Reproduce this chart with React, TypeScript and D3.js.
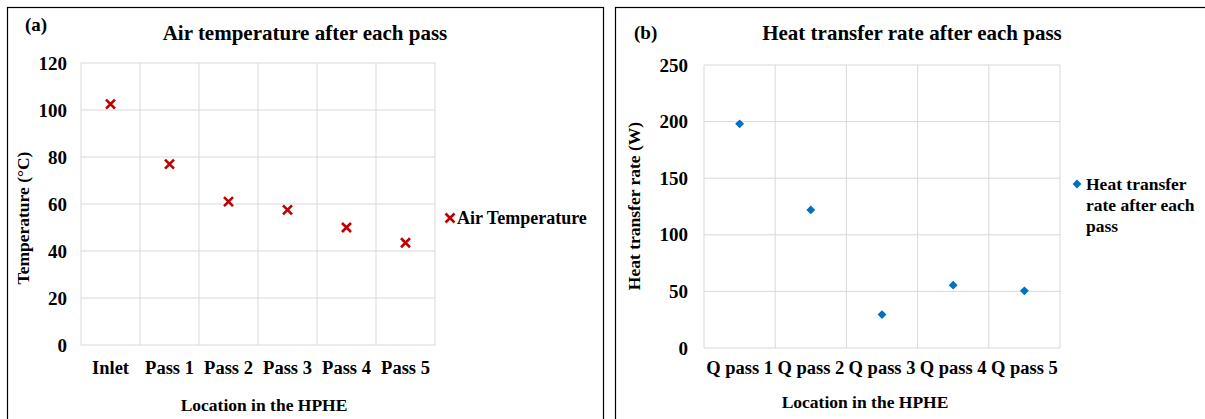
import * as d3 from "d3";

const tempCategories = ["Inlet", "Pass 1", "Pass 2", "Pass 3", "Pass 4", "Pass 5"];
const tempValues = [102.5, 77, 61, 57.5, 50, 43.5];
const tempTicks = [0, 20, 40, 60, 80, 100, 120];

const heatCategories = ["Q pass 1", "Q pass 2", "Q pass 3", "Q pass 4", "Q pass 5"];
const heatValues = [198, 122, 29.5, 55.5, 50.5];
const heatTicks = [0, 50, 100, 150, 200, 250];

const FONT = "'Liberation Serif', 'Times New Roman', serif";
const GRID = "#d9d9d9";

function TempPanel() {
  const x = d3.scaleBand<string>().domain(tempCategories).range([81, 435]);
  const y = d3.scaleLinear().domain([0, 120]).range([345, 63]);
  return (
    <g fontFamily={FONT} fontWeight="bold" fill="#000">
      <rect x={7.5} y={7.5} width={596} height={430} fill="#fff" stroke="#000" strokeWidth={1.2} />
      <text x={25} y={31} fontSize={19}>(a)</text>
      <text x={305} y={40} fontSize={21} textAnchor="middle">Air temperature after each pass</text>
      {tempTicks.map((t) => (
        <g key={t}>
          <line x1={81} x2={435} y1={y(t)} y2={y(t)} stroke={GRID} strokeWidth={1} />
          <text x={67} y={y(t) + 6.5} fontSize={19} textAnchor="end">{t}</text>
        </g>
      ))}
      {tempCategories.map((c, i) => (
        <g key={c}>
          <line x1={x(c)!} x2={x(c)!} y1={63} y2={345} stroke={GRID} />
          {i === tempCategories.length - 1 && (
            <line x1={x(c)! + x.bandwidth()} x2={x(c)! + x.bandwidth()} y1={63} y2={345} stroke={GRID} />
          )}
          <text x={x(c)! + x.bandwidth() / 2} y={374} fontSize={18.5} textAnchor="middle">{c}</text>
        </g>
      ))}
      {tempValues.map((v, i) => {
        const cx = x(tempCategories[i])! + x.bandwidth() / 2;
        const cy = y(v);
        return (
          <path key={i} d={`M${cx - 4.5},${cy - 4.5}L${cx + 4.5},${cy + 4.5}M${cx - 4.5},${cy + 4.5}L${cx + 4.5},${cy - 4.5}`}
            stroke="#c00000" strokeWidth={2.6} fill="none" />
        );
      })}
      <text x={264} y={411} fontSize={17.5} textAnchor="middle">Location in the HPHE</text>
      <text transform="translate(29,218) rotate(-90)" fontSize={17.5} textAnchor="middle">Temperature (°C)</text>
      <path d="M445.5,213.5L454.5,222.5M445.5,222.5L454.5,213.5" stroke="#c00000" strokeWidth={2.6} fill="none" />
      <text x={457} y={224} fontSize={18}>Air Temperature</text>
    </g>
  );
}

function HeatPanel() {
  const x = d3.scaleBand<string>().domain(heatCategories).range([704, 1060]);
  const y = d3.scaleLinear().domain([0, 250]).range([348, 65]);
  const diamond = d3.symbol().type(d3.symbolDiamond2).size(50);
  return (
    <g fontFamily={FONT} fontWeight="bold" fill="#000">
      <rect x={615.5} y={7.5} width={620} height={430} fill="#fff" stroke="#000" strokeWidth={1.2} />
      <text x={634} y={39} fontSize={19}>(b)</text>
      <text x={912} y={40} fontSize={21} textAnchor="middle">Heat transfer rate after each pass</text>
      {heatTicks.map((t) => (
        <g key={t}>
          <line x1={704} x2={1060} y1={y(t)} y2={y(t)} stroke={GRID} />
          <text x={688} y={y(t) + 6.5} fontSize={19} textAnchor="end">{t}</text>
        </g>
      ))}
      {heatCategories.map((c, i) => (
        <g key={c}>
          <line x1={x(c)!} x2={x(c)!} y1={65} y2={348} stroke={GRID} />
          {i === heatCategories.length - 1 && (
            <line x1={x(c)! + x.bandwidth()} x2={x(c)! + x.bandwidth()} y1={65} y2={348} stroke={GRID} />
          )}
          <text x={x(c)! + x.bandwidth() / 2} y={374} fontSize={18.5} textAnchor="middle">{c}</text>
        </g>
      ))}
      {heatValues.map((v, i) => (
        <path key={i} d={diamond()!} fill="#0070c0"
          transform={`translate(${x(heatCategories[i])! + x.bandwidth() / 2},${y(v)})`} />
      ))}
      <text x={865} y={408} fontSize={17.5} textAnchor="middle">Location in the HPHE</text>
      <text transform="translate(640,206) rotate(-90)" fontSize={17.5} textAnchor="middle">Heat transfer rate (W)</text>
      <path d={diamond()!} fill="#0070c0" transform="translate(1077,184)" />
      <text x={1086} y={190} fontSize={17.5}>Heat transfer</text>
      <text x={1086} y={211} fontSize={17.5}>rate after each</text>
      <text x={1086} y={232} fontSize={17.5}>pass</text>
    </g>
  );
}

export default function App() {
  return (
    <svg width={1205} height={419} style={{ position: "absolute", left: 0, top: 0, background: "#fff" }}>
      <rect width={1205} height={419} fill="#fff" />
      <TempPanel />
      <HeatPanel />
    </svg>
  );
}
